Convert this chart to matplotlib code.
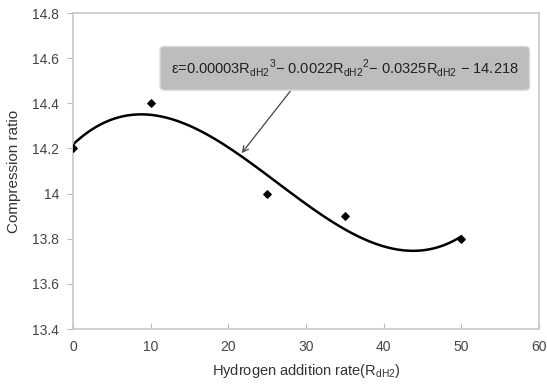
import numpy as np
import matplotlib
matplotlib.use("Agg")
import matplotlib.pyplot as plt

plt.rcParams["font.family"] = ["Liberation Sans", "DejaVu Sans"]
plt.rcParams["mathtext.fontset"] = "custom"
plt.rcParams["mathtext.rm"] = "Liberation Sans"

# measured compression ratio vs hydrogen addition rate
h2_rate = [0, 10, 25, 35, 50]
comp_ratio = [14.2, 14.4, 14.0, 13.9, 13.8]
x_ticks = [0, 10, 20, 30, 40, 50, 60]
y_ticks = [13.4, 13.6, 13.8, 14.0, 14.2, 14.4, 14.6, 14.8]
y_labels = ["13.4", "13.6", "13.8", "14", "14.2", "14.4", "14.6", "14.8"]

eq_text = (r"ε=0.00003R$_{\mathrm{dH2}}$$^{3}$$-$ 0.0022R$_{\mathrm{dH2}}$$^{2}$"
           r"$-$ 0.0325R$_{\mathrm{dH2}}$ $-$ 14.218")

# 3rd order trendline
coef = np.polyfit(h2_rate, comp_ratio, 3)
xs = np.linspace(0, 50, 200)
ys = np.polyval(coef, xs)

fig = plt.figure(figsize=(5.47, 3.87), dpi=100)
ax = fig.add_axes([73 / 547, 1 - 329 / 387, 466 / 547, 316 / 387])

ax.plot(xs, ys, color="black", lw=1.8, zorder=2)
ax.scatter(h2_rate, comp_ratio, marker="D", s=14, color="black", zorder=3)

ax.set_xlim(0, 60)
ax.set_ylim(13.4, 14.8)
ax.set_xticks(x_ticks)
ax.set_yticks(y_ticks)
ax.set_yticklabels(y_labels)
ax.tick_params(axis="x", direction="in", length=4, color="#bbbbbb",
               labelsize=10, labelcolor="#444444", pad=8)
ax.tick_params(axis="y", direction="out", length=4, color="#bbbbbb",
               labelsize=10, labelcolor="#444444", pad=6)
for s in ax.spines.values():
    s.set_color("#c8c8c8")
    s.set_linewidth(1.2)

ax.set_xlabel(r"Hydrogen addition rate(R$_{\mathrm{dH2}}$)", fontsize=10.5,
              color="#333333", labelpad=6)
ax.set_ylabel("Compression ratio", fontsize=11, color="#333333", labelpad=8)

xa = 21.5
ax.annotate(eq_text, xy=(xa, np.polyval(coef, xa)), xytext=(35, 14.555),
            ha="center", va="center", fontsize=10.5, color="#222222",
            bbox=dict(boxstyle="round,pad=0.75,rounding_size=0.3",
                      fc="#bdbdbd", ec="#dddddd"),
            arrowprops=dict(arrowstyle="->", color="#444444", lw=0.9,
                            relpos=(0.37, 0.0), shrinkA=0, shrinkB=2))

fig.savefig("out.png", dpi=100)
